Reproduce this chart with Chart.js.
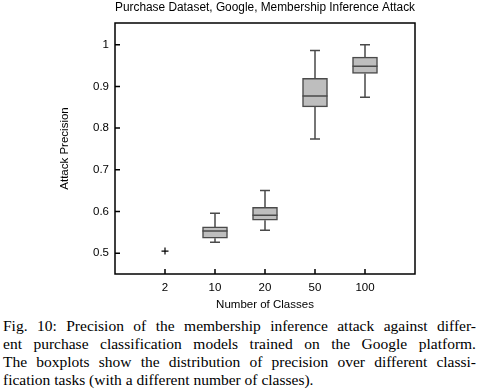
<!DOCTYPE html>
<html>
<head>
<meta charset="utf-8">
<script src="https://cdn.jsdelivr.net/npm/chart.js@4"></script>
<style>
  body { margin: 0; background: #fff; width: 479px; height: 391px; overflow: hidden; }
  #wrap { position: relative; width: 479px; height: 316px; }
  #caption { font-family: "Liberation Serif", "Times New Roman", serif; font-size: 15.5px; line-height: 18px;
    color: #000; margin-top: 1px; padding: 0 3px; }
  #caption div { text-align: justify; text-align-last: justify; white-space: nowrap; }
  #caption div.last { text-align-last: left; }
</style>
</head>
<body>
<div id="wrap"><canvas id="chart"></canvas></div>
<div id="caption">
  <div>Fig. 10: Precision of the membership inference attack against differ-</div>
  <div>ent purchase classification models trained on the Google platform.</div>
  <div>The boxplots show the distribution of precision over different classi-</div>
  <div class="last">fication tasks (with a different number of classes).</div>
</div>
<script>
// number of classes on the x axis
const classes = ["2", "10", "20", "50", "100"];
// attack precision, one value per class
const whiskerLow  = [0.505, 0.526, 0.555, 0.774, 0.874];
const q1          = [0.505, 0.536, 0.579, 0.851, 0.931];
const median      = [0.505, 0.553, 0.591, 0.877, 0.948];
const q3          = [0.505, 0.563, 0.610, 0.919, 0.970];
const whiskerHigh = [0.505, 0.596, 0.650, 0.986, 1.000];
const outlierY    = [0.505, null, null, null, null];
const yTicks = [0.5, 0.6, 0.7, 0.8, 0.9, 1.0];

const font = "'Liberation Sans', Arial, sans-serif";
const boxLine = "#4a4a4a";

// boxes as floating bars, x = class index + 1
let boxData = [];
let pointData = [];
classes.forEach((c, i) => {
  if (q3[i] > q1[i]) boxData.push({ x: i + 1, y: [q1[i], q3[i]] });
  if (outlierY[i] !== null) pointData.push({ x: i + 1, y: outlierY[i] });
});

// whiskers, medians, frame and inward ticks
const boxExtras = {
  id: "boxExtras",
  afterDatasetsDraw(chart) {
    const ctx = chart.ctx;
    const xs = chart.scales.x, ys = chart.scales.y;
    const a = chart.chartArea;
    ctx.save();
    ctx.strokeStyle = boxLine;
    ctx.lineWidth = 1.5;
    classes.forEach((c, i) => {
      if (!(q3[i] > q1[i])) return;
      const x = xs.getPixelForValue(i + 1);
      const half = 12.5, cap = 5;
      ctx.beginPath();
      ctx.moveTo(x, ys.getPixelForValue(q3[i]));
      ctx.lineTo(x, ys.getPixelForValue(whiskerHigh[i]));
      ctx.moveTo(x - cap, ys.getPixelForValue(whiskerHigh[i]));
      ctx.lineTo(x + cap, ys.getPixelForValue(whiskerHigh[i]));
      ctx.moveTo(x, ys.getPixelForValue(q1[i]));
      ctx.lineTo(x, ys.getPixelForValue(whiskerLow[i]));
      ctx.moveTo(x - cap, ys.getPixelForValue(whiskerLow[i]));
      ctx.lineTo(x + cap, ys.getPixelForValue(whiskerLow[i]));
      ctx.moveTo(x - half, ys.getPixelForValue(median[i]));
      ctx.lineTo(x + half, ys.getPixelForValue(median[i]));
      ctx.stroke();
    });
    // frame
    ctx.strokeStyle = "#000";
    ctx.lineWidth = 1.5;
    ctx.strokeRect(a.left, a.top, a.right - a.left, a.bottom - a.top);
    // ticks pointing inward
    ctx.beginPath();
    xs.ticks.forEach((t) => {
      const x = xs.getPixelForValue(t.value);
      ctx.moveTo(x, a.bottom);
      ctx.lineTo(x, a.bottom - 5);
    });
    ys.ticks.forEach((t) => {
      const y = ys.getPixelForValue(t.value);
      ctx.moveTo(a.left, y);
      ctx.lineTo(a.left + 5, y);
    });
    ctx.stroke();
    ctx.restore();
  }
};

new Chart(document.getElementById("chart"), {
  data: {
    datasets: [
      {
        type: "bar",
        data: boxData,
        backgroundColor: "#bebebe",
        borderColor: boxLine,
        borderWidth: 1.5,
        borderSkipped: false,
        barThickness: 25
      },
      {
        type: "scatter",
        data: pointData,
        pointStyle: "cross",
        pointRadius: 3.5,
        borderColor: "#000",
        borderWidth: 1.2
      }
    ]
  },
  options: {
    responsive: true,
    maintainAspectRatio: false,
    animation: false,
    layout: { padding: { left: 54, right: 64, top: 0, bottom: 0 } },
    plugins: {
      legend: { display: false },
      tooltip: { enabled: false },
      title: {
        display: true,
        fullSize: false,
        text: "Purchase Dataset, Google, Membership Inference Attack",
        color: "#000",
        font: { family: font, size: 12, weight: "normal" },
        padding: { top: 0, bottom: 8.6 }
      }
    },
    scales: {
      x: {
        type: "linear",
        offset: false,
        min: 0,
        max: 6,
        afterBuildTicks: (s) => { s.ticks = classes.map((c, i) => ({ value: i + 1 })); },
        afterFit: (s) => { s.height = 42; },
        grid: { display: false, drawTicks: false },
        border: { display: false },
        ticks: {
          color: "#000",
          font: { family: font, size: 11.5 },
          padding: 7,
          maxRotation: 0,
          callback: (v) => classes[v - 1]
        },
        title: {
          display: true,
          text: "Number of Classes",
          color: "#000",
          font: { family: font, size: 11.5 },
          padding: { top: 2, bottom: 4 }
        }
      },
      y: {
        min: 0.45,
        max: 1.052,
        afterBuildTicks: (s) => { s.ticks = yTicks.map((v) => ({ value: v })); },
        afterFit: (s) => { s.width = 61; },
        grid: { display: false, drawTicks: false },
        border: { display: false },
        ticks: {
          color: "#000",
          font: { family: font, size: 11.5 },
          padding: 6,
          callback: (v) => String(Number(v.toFixed(1)))
        },
        title: {
          display: true,
          text: "Attack Precision",
          color: "#000",
          font: { family: font, size: 11.5 },
          padding: { top: 4, bottom: 4 }
        }
      }
    }
  },
  plugins: [boxExtras]
});
</script>
</body>
</html>
